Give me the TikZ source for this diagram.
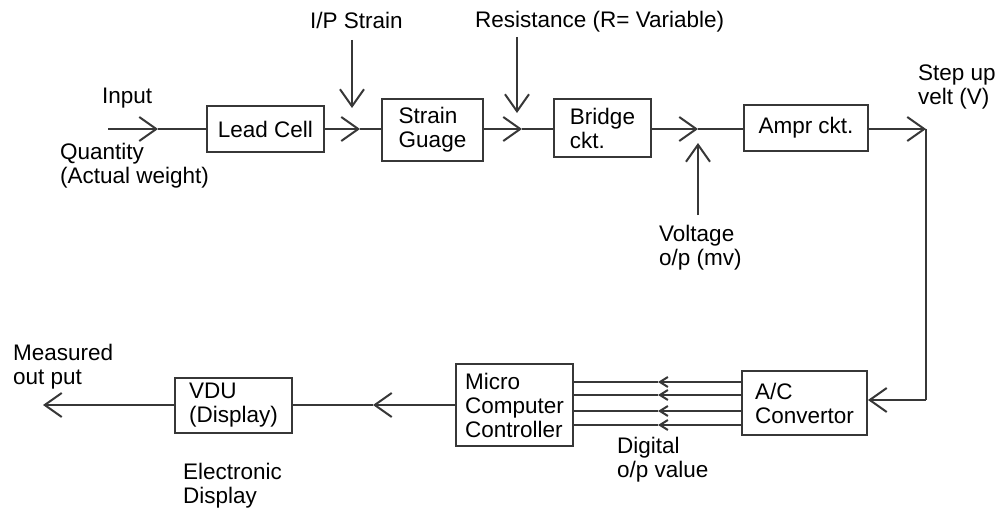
\documentclass[tikz,border=0pt]{standalone}
\usepackage{fontspec}
\setmainfont{Liberation Sans}
\usetikzlibrary{arrows.meta}
\definecolor{linegray}{RGB}{55,55,55}
\begin{document}
\begin{tikzpicture}[x=1pt,y=-1pt,
  every node/.style={font=\fontsize{22.5}{24}\selectfont, text=black},
  blk/.style={draw=linegray, line width=2pt, align=left, inner sep=0pt},
  lbl/.style={anchor=west, align=left, inner sep=0pt},
  ln/.style={draw=linegray, line width=2pt},
  arr/.style={ln, -{Straight Barb[length=17pt,width=24pt]}},
  sarr/.style={ln, -{Straight Barb[length=8pt,width=10pt]}}]
\useasboundingbox (0,0) rectangle (996,511);

% blocks
\node[blk, minimum width=117pt, minimum height=46pt] (lead)   at (265.5,129) {Lead Cell};
\node[blk, minimum width=101pt, minimum height=62pt] (strain) at (432.5,130) {Strain\\Guage};
\node[blk, minimum width=97pt,  minimum height=58pt] (bridge) at (602.5,128) {Bridge\\ckt.};
\node[blk, minimum width=124pt, minimum height=46pt] (ampr)   at (806,128) {Ampr ckt.};
\node[blk, minimum width=125pt, minimum height=64pt] (adc)    at (804.5,403) {A/C\\Convertor};
\node[blk, minimum width=117pt, minimum height=82pt] (micro)  at (514.5,405) {Micro\\Computer\\Controller};
\node[blk, minimum width=117pt, minimum height=55pt] (vdu)    at (233.5,405) {VDU\\(Display)};

% labels
\node[lbl] (linput) at (102,98) {Input};
\node[lbl] (lqty)   at (60,166) {Quantity\\(Actual weight)};
\node[lbl] (lips)   at (310,20) {I/P Strain};
\node[lbl] (lres)   at (475,22) {Resistance (R= Variable)};
\node[lbl] (lstep)  at (918,87) {Step up\\velt (V)};
\node[lbl] (lvolt)  at (659,248) {Voltage\\o/p (mv)};
\node[lbl] (lmeas)  at (13,367) {Measured\\out put};
\node[lbl] (ldig)   at (617,460) {Digital\\o/p value};
\node[lbl] (lelec)  at (183,486) {Electronic\\Display};

% coordinates
\coordinate (in0) at (108,129);
\coordinate (t1)  at (158,129);
\coordinate (t2)  at (360,129);
\coordinate (p0)  at (352,40);
\coordinate (p1)  at (352,108);
\coordinate (t3)  at (522,129);
\coordinate (r0)  at (517,37);
\coordinate (r1)  at (517,113);
\coordinate (t4)  at (698,129);
\coordinate (v0)  at (698,215);
\coordinate (v1)  at (698,143);
\coordinate (t5)  at (926,129);
\coordinate (cr)  at (926,400);
\coordinate (t6)  at (373,405);
\coordinate (out) at (43,405);

% main chain
\draw[arr] (in0) -- (t1);
\draw[ln] (t1) -- (lead.west |- t1);
\draw[arr] (lead.east |- t2) -- (t2);
\draw[ln] (t2) -- (strain.west |- t2);
\draw[arr] (p0) -- (p1);
\draw[arr] (strain.east |- t3) -- (t3);
\draw[ln] (t3) -- (bridge.west |- t3);
\draw[arr] (r0) -- (r1);
\draw[arr] (bridge.east |- t4) -- (t4);
\draw[ln] (t4) -- (ampr.west |- t4);
\draw[arr] (v0) -- (v1);
\draw[arr] (ampr.east |- t5) -- (t5);
\draw[ln] (t5) -- (cr);
\draw[arr] (cr) -- (adc.east |- cr);

% digital lines
\foreach \yy [count=\i] in {382,395,411,425} {
  \coordinate (d\i) at (658,\yy);
  \draw[sarr] (adc.west |- d\i) -- (d\i);
  \draw[ln] (d\i) -- (micro.east |- d\i);
}

% output chain
\draw[arr] (micro.west |- t6) -- (t6);
\draw[ln] (t6) -- (vdu.east |- t6);
\draw[arr] (vdu.west |- out) -- (out);
\end{tikzpicture}
\end{document}
